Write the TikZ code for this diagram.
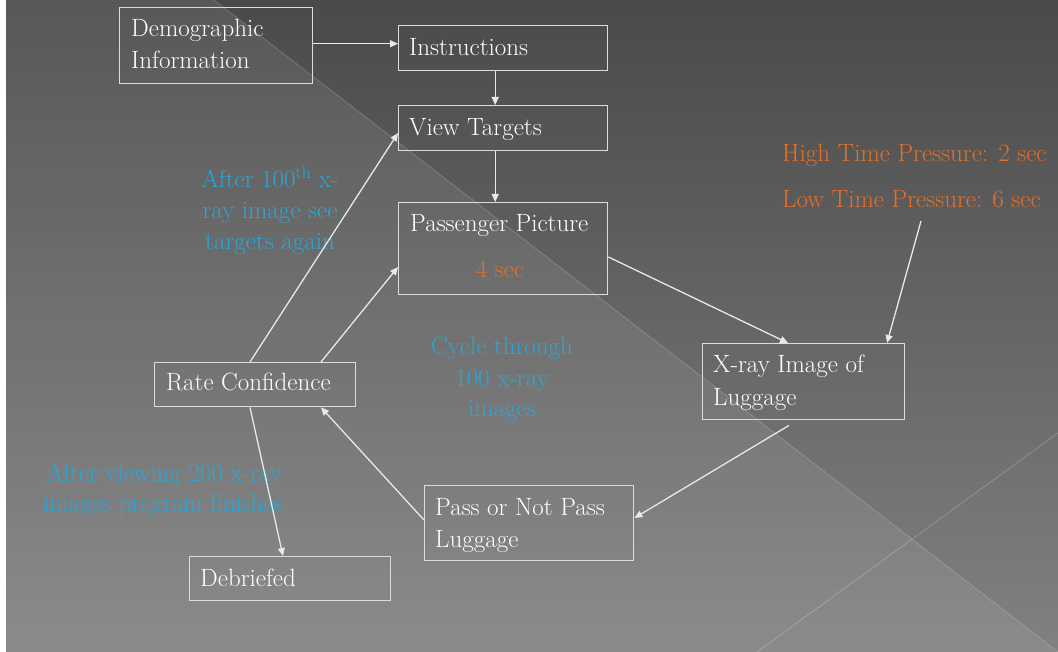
\documentclass[tikz,border=0pt]{standalone}
\usetikzlibrary{arrows.meta,calc}
\definecolor{bgtop}{HTML}{4A4A4A}
\definecolor{bgbot}{HTML}{818181}
\definecolor{boxc}{HTML}{DCDCDC}
\definecolor{arrc}{HTML}{E8E8E8}
\definecolor{bluec}{HTML}{2AA6D6}
\definecolor{orngc}{HTML}{E2702A}
\tikzset{
  box/.style={draw=boxc, line width=1.4pt, anchor=north west, inner sep=0pt},
  lbl/.style={text=white, font=\fontsize{25}{32}\selectfont, anchor=base west, inner sep=0pt},
  note/.style={text=bluec, font=\fontsize{25}{32}\selectfont, anchor=base, inner sep=0pt},
  onote/.style={text=orngc, font=\fontsize{25}{32}\selectfont, anchor=base west, inner sep=0pt},
  arr/.style={draw=arrc, line width=1.3pt, -{Triangle[length=8pt,width=7pt]}}
}
\begin{document}
\begin{tikzpicture}[x=1pt,y=-1pt]
\useasboundingbox (0,0) rectangle (1058,652);
% background
\shade[top color=bgtop, bottom color=bgbot] (0,0) rectangle (1058,652);
\fill[white, opacity=0.08] (0,0) -- (214,0) -- (1058,652) -- (0,652) -- cycle;
\draw[white, opacity=0.18, line width=0.8pt] (214,0) -- (1058,652);
\draw[white, opacity=0.22, line width=0.8pt] (757,652) -- (1058,433);
\fill[white] (0,0) rectangle (6,652);
% boxes
\node[box, minimum width=193pt, minimum height=76pt] (demo) at (119,7) {};
\node[box, minimum width=209pt, minimum height=45pt] (instr) at (398,25) {};
\node[box, minimum width=209pt, minimum height=45pt] (view) at (398,105) {};
\node[box, minimum width=209pt, minimum height=92pt] (pic) at (398,202) {};
\node[box, minimum width=202pt, minimum height=76pt] (xray) at (702,343) {};
\node[box, minimum width=209pt, minimum height=75pt] (pass) at (424,485) {};
\node[box, minimum width=201pt, minimum height=44pt] (rate) at (154,362) {};
\node[box, minimum width=201pt, minimum height=44pt] (deb) at (189,556) {};
% box texts
\node[lbl] (demoA) at (131,37) {Demographic};
\node[lbl] (demoB) at (131,69) {Information};
\node[lbl] (instrT) at (409,56) {Instructions};
\node[lbl] (viewT) at (409,136) {View Targets};
\node[lbl] (picT) at (410,232) {Passenger Picture};
\node[onote, anchor=base] (picS) at (500,278) {4 sec};
\node[lbl] (xrayA) at (713,373) {X-ray Image of};
\node[lbl] (xrayB) at (713,405) {Luggage};
\node[lbl] (passA) at (435,515) {Pass or Not Pass};
\node[lbl] (passB) at (435,547) {Luggage};
\node[lbl] (rateT) at (166,391) {Rate Confidence};
\node[lbl] (debT) at (200,586) {Debriefed};
% notes
\node[note] (n1a) at (270,188) {After 100\textsuperscript{th} x-};
\node[note] (n1b) at (270,219) {ray image see};
\node[note] (n1c) at (270,250) {targets again};
\node[note] (n2a) at (502,355) {Cycle through};
\node[note] (n2b) at (502,387) {100 x-ray};
\node[note] (n2c) at (502,417) {images};
\node[note] (n3a) at (164,481) {After viewing 200 x-ray};
\node[note] (n3b) at (163,511) {images program finishes};
\node[onote] (highT) at (782,162) {High Time Pressure: 2 sec};
\node[onote] (lowT) at (782,208) {Low Time Pressure: 6 sec};
\coordinate (lowE) at (921,221);
% connectors
\draw[arr] ([yshift=2pt]demo.east) -- ([yshift=2pt]demo.east -| instr.west);
\draw[arr] ([xshift=-8pt]instr.south) -- ([xshift=-8pt]view.north);
\draw[arr] ([xshift=-8pt]view.south) -- ([xshift=-8pt]pic.north);
\draw[arr] ($(pic.north east)+(0,55)$) -- ($(xray.north west)+(86,0)$);
\draw[arr] (lowE) -- ($(xray.north west)+(185,0)$);
\draw[arr] ($(xray.south west)+(87,5)$) -- ($(pass.north east)+(0,33)$);
\draw[arr] ($(pass.north west)+(0,35)$) -- ($(rate.south west)+(167,0)$);
\draw[arr] ($(rate.north west)+(96,0)$) -- ($(view.north west)+(0,28)$);
\draw[arr] ($(rate.north west)+(167,0)$) -- ($(pic.north west)+(0,65)$);
\draw[arr] ($(rate.south west)+(96,0)$) -- ($(deb.north west)+(94,0)$);
\end{tikzpicture}
\end{document}
